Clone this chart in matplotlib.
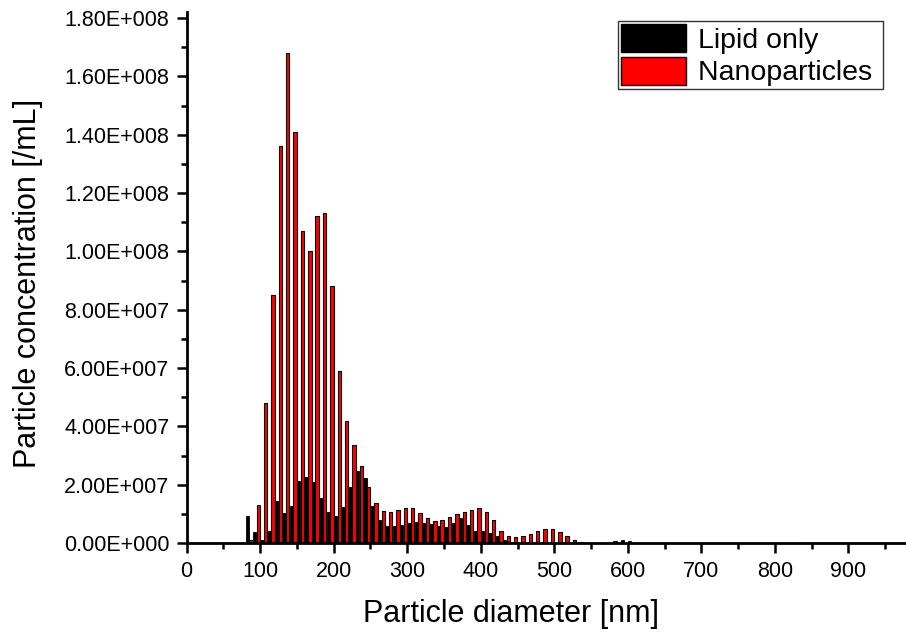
import numpy as np
import matplotlib
matplotlib.use("Agg")
import matplotlib.pyplot as plt
from matplotlib.ticker import MultipleLocator, FuncFormatter
from matplotlib.patches import Patch

plt.rcParams["font.family"] = ["Liberation Sans", "DejaVu Sans"]

# bin centres (nm), 10 nm bins
bins = np.arange(85, 830, 10)

lipid_only = [
    9.3e6, 3.9e6, 1.0e6, 4.1e6, 1.45e7, 1.03e7, 1.29e7, 2.13e7, 2.27e7, 2.08e7,   # 85-175
    1.55e7, 1.06e7, 9.4e6, 1.25e7, 1.91e7, 2.46e7, 2.22e7, 1.29e7, 7.9e6, 6.0e6,  # 185-275
    5.8e6, 6.2e6, 6.9e6, 7.1e6, 6.9e6, 6.4e6, 5.8e6, 5.4e6, 6.9e6, 8.5e6,         # 285-375
    6.1e6, 4.3e6, 4.0e6, 3.4e6, 2.3e6, 1.1e6, 0.5e6, 0.1e6, 0, 0,                 # 385-475
    0, 0, 0, 0, 0, 0, 0, 0, 0, 0,                                                 # 485-575
    0.8e6, 1.2e6, 0.8e6, 0, 0, 0, 0, 0, 0, 0,                                     # 585-675
    0, 0, 0, 0, 0, 0, 0, 0, 0, 0,                                                 # 685-775
    0, 0, 0, 0, 0,                                                                # 785-825
]

nanoparticles = [
    1.2e6, 1.32e7, 4.8e7, 8.5e7, 1.36e8, 1.68e8, 1.41e8, 1.07e8, 1.0e8, 1.12e8,   # 85-175
    1.13e8, 8.8e7, 5.9e7, 4.2e7, 3.36e7, 2.66e7, 1.91e7, 1.36e7, 1.09e7, 1.06e7,  # 185-275
    1.15e7, 1.21e7, 1.19e7, 1.04e7, 8.7e6, 7.7e6, 7.8e6, 9.0e6, 1.0e7, 1.07e7,    # 285-375
    1.15e7, 1.19e7, 1.07e7, 7.8e6, 4.3e6, 2.6e6, 2.2e6, 2.5e6, 3.1e6, 4.0e6,      # 385-475
    4.7e6, 4.8e6, 3.8e6, 2.5e6, 1.1e6, 0.5e6, 0.2e6, 0.1e6, 0, 0,                 # 485-575
    0, 0, 0, 0, 0, 0, 0, 0, 0, 0,                                                 # 585-675
    0, 0, 1.5e5, 1.5e5, 1.5e5, 1.5e5, 1.5e5, 1.5e5, 1.5e5, 1.5e5,                 # 685-775
    1.5e5, 1.5e5, 1.5e5, 0, 0,                                                    # 785-825
]

lipid_only = np.array(lipid_only)
nanoparticles = np.array(nanoparticles)


def sci_fmt(v, pos):
    # Origin style: 1.80E+008
    if v == 0:
        return "0.00E+000"
    exp = int(np.floor(np.log10(abs(v))))
    mant = v / 10 ** exp
    return f"{mant:.2f}E+{exp:03d}"


fig = plt.figure(figsize=(9.06, 6.39), dpi=100)
ax = fig.add_axes([0.206, 0.150, 0.793, 0.831])

w = 4.6
ax.bar(bins - 2.5, lipid_only, width=w, color="black", edgecolor="black", lw=0.6)
ax.bar(bins + 2.5, nanoparticles, width=w, color="red", edgecolor="black", lw=0.8)

ax.set_xlim(0, 977)
ax.set_ylim(0, 1.82e8)
ax.xaxis.set_major_locator(MultipleLocator(100))
ax.xaxis.set_minor_locator(MultipleLocator(50))
ax.yaxis.set_major_locator(MultipleLocator(2e7))
ax.yaxis.set_minor_locator(MultipleLocator(1e7))
ax.yaxis.set_major_formatter(FuncFormatter(sci_fmt))

for s in ["top", "right"]:
    ax.spines[s].set_visible(False)
for s in ["left", "bottom"]:
    ax.spines[s].set_linewidth(2.0)
ax.tick_params(which="major", direction="out", length=7.5, width=1.8, labelsize=15.5)
ax.tick_params(which="minor", direction="out", length=4, width=1.8)
ax.tick_params(axis="x", pad=5)
ax.tick_params(axis="y", pad=5)

ax.set_xlabel("Particle diameter [nm]", fontsize=22)
ax.set_ylabel("Particle concentration [/mL]", fontsize=22)
ax.xaxis.set_label_coords(0.452, -0.105)
ax.yaxis.set_label_coords(-0.200, 0.49)

handles = [Patch(facecolor="black", edgecolor="black", label="Lipid only "),
           Patch(facecolor="red", edgecolor="black", label="Nanoparticles ")]
leg = ax.legend(handles=handles, loc="upper right",
                bbox_to_anchor=(883 / 906, 1 - 21 / 639), bbox_transform=fig.transFigure,
                fontsize=20.5, frameon=True, fancybox=False, handlelength=2.28,
                handleheight=1.16, handletextpad=0.42, borderpad=0.1,
                labelspacing=0.1, borderaxespad=0)
leg.get_frame().set_edgecolor("black")
leg.get_frame().set_linewidth(1.0)

fig.savefig("out.png", dpi=100)
